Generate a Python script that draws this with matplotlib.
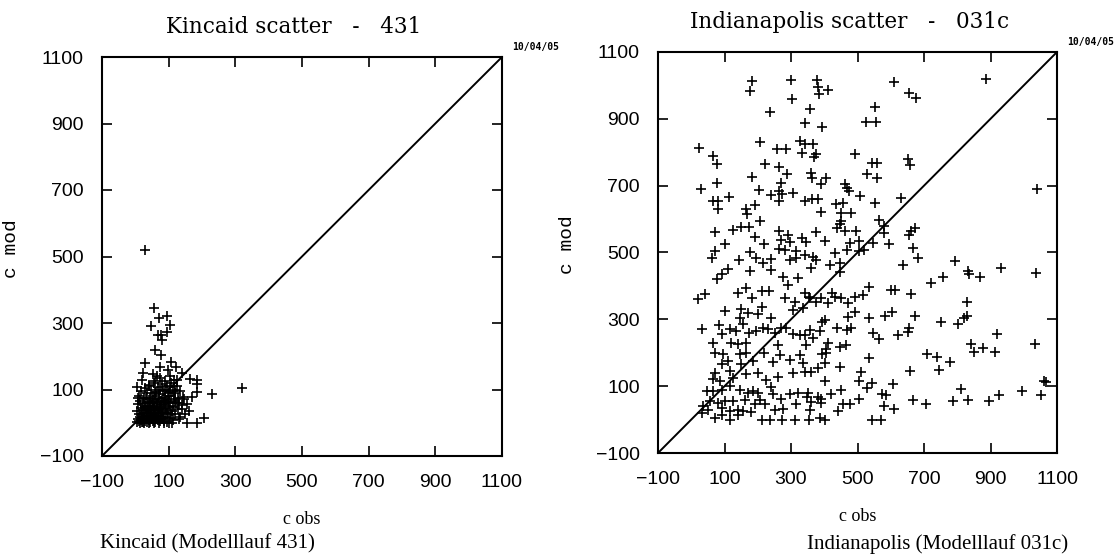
import matplotlib.pyplot as plt
import numpy as np

# Kincaid (Modelllauf 431): (c obs, c mod)
kincaid_pts = [
    (5, 2), (8, 10), (12, 4), (15, 18), (18, 7), (20, 25), (22, 3), (25, 12), (27, 30), (30, 6),
    (32, 20), (35, 2), (36, 40), (38, 15), (40, 28), (42, 8), (44, 50), (45, 3), (47, 22), (48, 35),
    (50, 12), (52, 60), (53, 5), (55, 45), (57, 25), (58, 2), (60, 70), (62, 15), (63, 38), (65, 55),
    (67, 8), (68, 30), (70, 85), (72, 20), (73, 48), (75, 4), (77, 65), (78, 12), (80, 35), (82, 95),
    (84, 25), (85, 55), (87, 6), (88, 75), (90, 18), (92, 42), (94, 110), (95, 3), (97, 60), (99, 28),
    (100, 88), (103, 15), (105, 50), (108, 120), (110, 35), (112, 8), (115, 70), (118, 100), (120, 25),
    (122, 58), (125, 130), (128, 40), (130, 12), (5, 35), (8, 55), (10, 80), (12, 25), (14, 65), (16, 45),
    (18, 95), (20, 2), (22, 58), (24, 38), (26, 75), (28, 50), (30, 105), (32, 70), (34, 28), (36, 90),
    (38, 60), (40, 45), (42, 115), (44, 75), (46, 18), (48, 100), (50, 65), (52, 30), (54, 80), (56, 48),
    (58, 125), (60, 38), (62, 92), (64, 58), (66, 20), (68, 108), (70, 42), (72, 75), (74, 135), (76, 52),
    (78, 28), (80, 118), (82, 62), (84, 10), (88, 45), (90, 98), (92, 68), (94, 30), (98, 80), (102, 62),
    (104, 108), (106, 25), (108, 80), (112, 95), (114, 48), (116, 130), (118, 65), (120, 88), (124, 110),
    (128, 75), (132, 60), (135, 95), (140, 40), (145, 70), (150, 25), (155, 55), (160, 35), (25, 0),
    (40, 0), (55, 0), (70, 0), (85, 0), (100, 0), (15, 0), (30, 48), (45, 62), (60, 88), (75, 100),
    (90, 125), (105, 140), (20, 130), (40, 110), (55, 120), (65, 140),
    (57, 346), (72, 316), (96, 320), (46, 290), (104, 293), (96, 273), (69, 265), (77, 264), (81, 248),
    (59, 218), (76, 203), (29, 180), (107, 183), (74, 168), (122, 168), (99, 158), (22, 150), (54, 148),
    (139, 150), (164, 133), (184, 128), (319, 105), (229, 85), (186, 118), (184, 93), (169, 78),
    (144, 78), (139, 53), (154, 0), (186, 0), (207, 13), (134, 18), (109, 0), (4, 108), (9, 73),
    (30, 520),
]

# Indianapolis (Modelllauf 031c): (c obs, c mod)
indy_pts = [
    (23, 814), (64, 789), (76, 764), (29, 691), (78, 709), (113, 666), (66, 654), (81, 654), (81, 629),
    (164, 631), (168, 614),
    (184, 1014), (176, 984), (299, 1016), (378, 1017), (381, 994), (383, 974), (412, 987), (304, 959),
    (611, 1009), (654, 977), (676, 962), (886, 1019), (236, 921), (356, 929), (554, 934), (341, 889),
    (526, 892), (556, 892), (393, 876), (208, 832), (328, 834), (341, 824), (366, 824), (259, 809),
    (284, 809), (334, 799), (376, 794), (368, 787), (491, 796), (222, 764), (264, 757), (288, 736),
    (184, 726), (359, 737), (363, 722), (406, 722), (391, 706), (544, 767), (559, 769), (528, 736),
    (559, 724), (653, 779), (659, 762), (461, 706), (468, 694), (474, 684), (204, 687), (271, 709),
    (264, 684), (274, 674), (241, 671), (264, 654), (306, 679), (342, 654), (364, 659), (381, 661),
    (509, 669), (631, 664), (554, 649), (434, 644), (456, 649), (451, 619), (479, 619), (389, 621),
    (193, 642), (208, 594), (451, 594), (446, 584), (566, 597), (1041, 691), (674, 574),
    (71, 560), (126, 568), (151, 575), (174, 575), (191, 545), (101, 525), (71, 505), (61, 485),
    (176, 500), (196, 485), (144, 477), (176, 445), (111, 450), (91, 435), (76, 422), (21, 360),
    (41, 375), (141, 380), (166, 395), (184, 365), (101, 325), (151, 330), (171, 320), (201, 315),
    (146, 305), (31, 270), (84, 283), (91, 255), (116, 270), (136, 265), (156, 285), (174, 260),
    (196, 265), (66, 230), (121, 230), (141, 227), (164, 230), (71, 200), (96, 195), (146, 195),
    (166, 200), (111, 175), (91, 165), (151, 165), (186, 175), (71, 140), (116, 145), (66, 120),
    (86, 115), (126, 125), (166, 135), (201, 140), (46, 85), (66, 85), (91, 90), (116, 100), (146, 90),
    (171, 80), (186, 85), (56, 57), (81, 50), (101, 55), (126, 57), (161, 60), (36, 40), (51, 30),
    (91, 35), (116, 25), (141, 30), (156, 27), (31, 20), (71, 5), (91, 15), (116, 0), (141, 15),
    (438, 573), (461, 563), (494, 563), (581, 578), (581, 558), (661, 563), (654, 553), (264, 563),
    (291, 553), (271, 538), (296, 531), (334, 543), (346, 531), (376, 560), (401, 535), (219, 525),
    (264, 511), (281, 508), (316, 503), (341, 493), (366, 488), (376, 478), (316, 483), (296, 478),
    (241, 481), (216, 468), (241, 448), (276, 428), (321, 425), (359, 453), (416, 463), (431, 498),
    (446, 468), (468, 508), (476, 528), (506, 533), (521, 508), (506, 503), (548, 528), (594, 525),
    (638, 463), (666, 513), (681, 483), (448, 443), (291, 403), (214, 385), (234, 385), (281, 363),
    (311, 353), (341, 378), (354, 368), (356, 363), (376, 353), (391, 363), (411, 348), (424, 378),
    (431, 368), (451, 363), (471, 348), (491, 368), (516, 373), (534, 396), (601, 388), (614, 388),
    (661, 375), (721, 410), (756, 428), (793, 475), (833, 445), (836, 435), (868, 428), (933, 453),
    (1036, 440), (828, 353), (214, 338), (241, 303), (306, 328), (336, 333), (401, 298), (471, 308),
    (491, 323), (534, 303), (583, 311), (604, 323), (673, 311), (751, 291), (801, 286), (821, 305),
    (828, 311), (656, 275), (651, 263), (621, 253), (216, 275), (231, 270), (251, 258), (271, 273),
    (286, 273), (306, 255), (326, 253), (341, 253), (356, 268), (386, 265), (394, 293), (439, 273),
    (468, 268), (481, 273), (366, 243), (546, 258), (566, 240), (261, 223), (346, 223), (411, 228),
    (406, 210), (446, 218), (466, 223), (534, 183), (218, 198), (268, 193), (296, 178), (328, 193),
    (336, 170), (394, 195), (406, 198), (709, 195), (739, 188), (779, 171), (746, 148), (659, 145),
    (841, 225), (851, 201), (876, 215), (913, 201), (919, 256), (1033, 225), (246, 173), (306, 138),
    (341, 143), (361, 143), (381, 153), (401, 170), (446, 158), (512, 141), (261, 128), (226, 118),
    (401, 115), (506, 115), (528, 96), (544, 108), (606, 105), (811, 91), (1061, 115), (1066, 113),
    (201, 81), (241, 98), (246, 78), (271, 63), (296, 78), (321, 81), (351, 80), (348, 68), (381, 68),
    (391, 63), (421, 78), (451, 88), (206, 58), (221, 48), (251, 28), (276, 33), (316, 48), (361, 53),
    (356, 28), (391, 51), (441, 25), (456, 48), (476, 48), (506, 63), (574, 78), (586, 73), (581, 40),
    (611, 33), (666, 58), (706, 48), (786, 55), (831, 60), (894, 55), (926, 73), (996, 85), (1051, 75),
    (214, 0), (236, 0), (273, 0), (311, 0), (353, 0), (388, 5), (401, 0), (544, 0), (571, 0), (181, 23),
    (191, 48),
]

ticks = [-100, 100, 300, 500, 700, 900, 1100]
titles = ["Kincaid scatter   -   431", "Indianapolis scatter   -   031c"]
captions = ["Kincaid (Modelllauf 431)", "Indianapolis (Modelllauf 031c)"]
date_label = "10/04/05"

W, H = 1119, 554
fig = plt.figure(figsize=(W / 100, H / 100), dpi=100)

# axes boxes in pixels: left, top, right, bottom
boxes = [(102, 57, 502, 456), (658, 52, 1057, 453)]

for i, pts in enumerate([kincaid_pts, indy_pts]):
    x0, y0, x1, y1 = boxes[i]
    ax = fig.add_axes([x0 / W, 1 - y1 / H, (x1 - x0) / W, (y1 - y0) / H])
    obs, mod = np.array(pts).T
    ax.plot(obs, mod, '+', color='black', ms=7, mew=1.2)
    ax.plot([ticks[0], ticks[-1]], [ticks[0], ticks[-1]], color='black', lw=1.4)
    ax.set_xlim(ticks[0], ticks[-1])
    ax.set_ylim(ticks[0], ticks[-1])
    ax.set_xticks(ticks)
    ax.set_yticks(ticks)
    ax.tick_params(direction='in', top=True, right=True, length=7, width=1.2, pad=13)
    for lab in ax.get_xticklabels() + ax.get_yticklabels():
        lab.set_fontfamily('Liberation Sans')
        lab.set_fontsize(14)
    for sp in ax.spines.values():
        sp.set_linewidth(1.5)

    ax.set_ylabel('c mod', family='Liberation Mono', fontsize=14)
    ax.yaxis.set_label_coords(-0.205, 0.52)
    ax.set_xlabel('c obs', family='Liberation Serif', fontsize=13)
    ax.xaxis.set_label_coords(0.5, -0.138)

    ax.text(0.48, 1.075, titles[i], transform=ax.transAxes, ha='center', va='center',
            family='DejaVu Serif', fontsize=15.5)
    ax.text(1.085, 1.026, date_label, transform=ax.transAxes, ha='center', va='center',
            family='DejaVu Sans Mono', fontweight='bold', fontsize=7)

fig.text(100 / W, 1 - 544 / H, captions[0], ha='left', va='center',
         family='Liberation Serif', fontsize=15)
fig.text(1068 / W, 1 - 544 / H, captions[1], ha='right', va='center',
         family='Liberation Serif', fontsize=15)

fig.savefig('out.png', dpi=100, facecolor='white')
